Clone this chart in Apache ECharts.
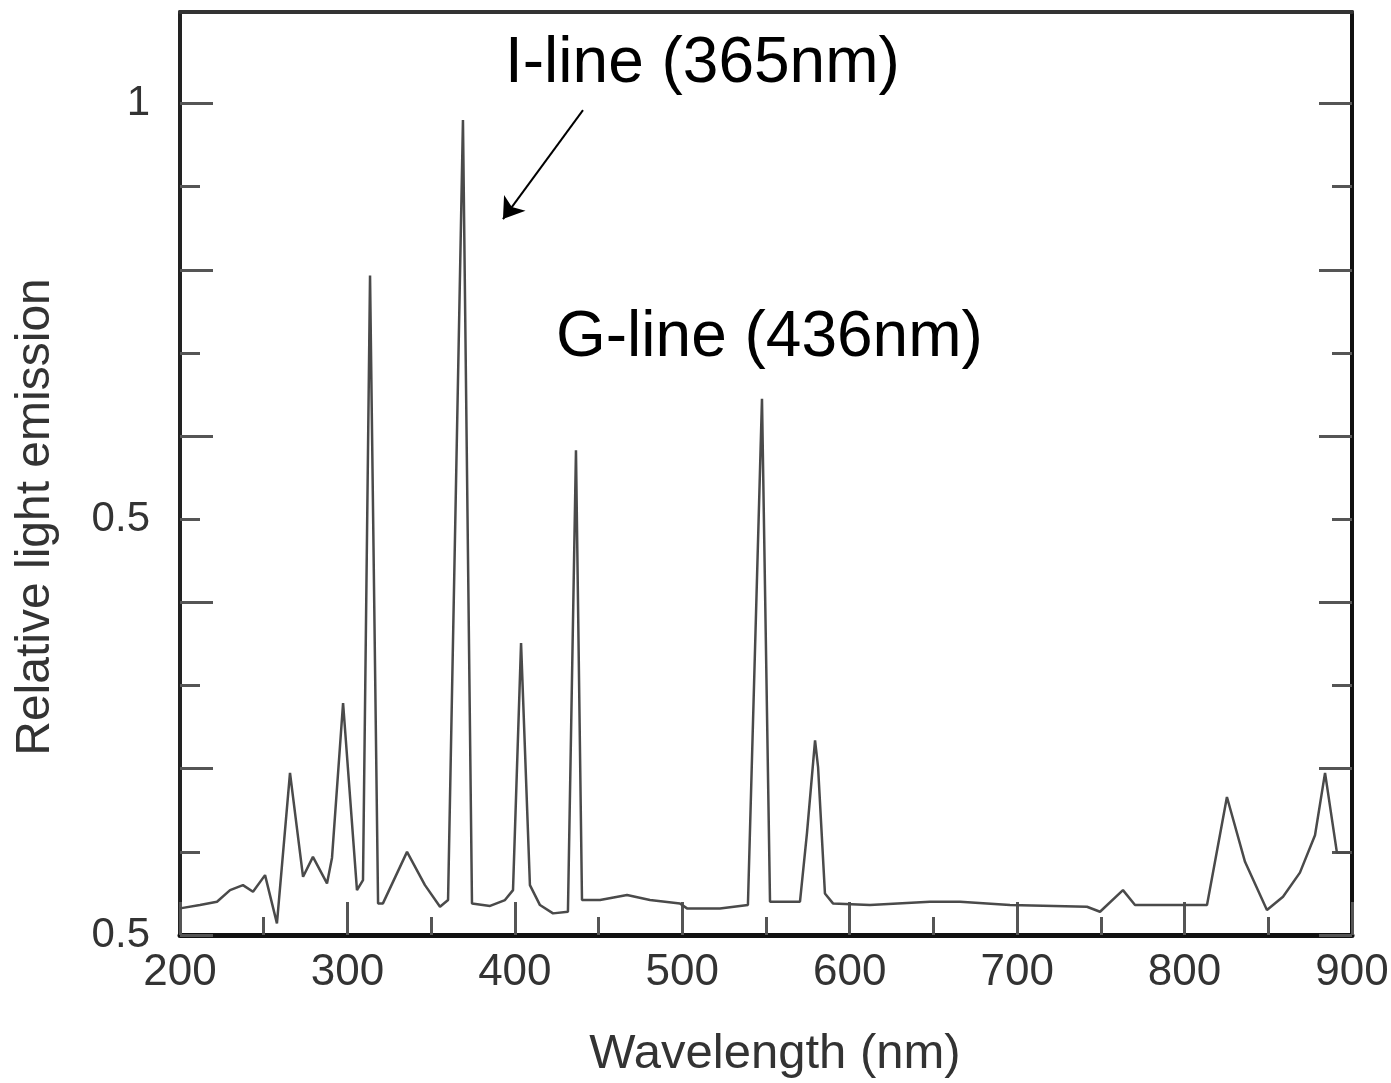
<!DOCTYPE html>
<html>
<head>
<meta charset="utf-8">
<style>
  html, body { margin: 0; padding: 0; background: #fff; }
  #chart { width: 1391px; height: 1083px; }
</style>
<script src="https://cdn.jsdelivr.net/npm/echarts@6/dist/echarts.min.js"></script>
</head>
<body>
<div id="chart"></div>
<script>
// spectrum (nm, relative emission)
const wavelength = [
  200, 211.9, 222.1, 229.9, 237.6, 243.6, 250.8, 257.9, 265.7, 273.5,
  279.4, 287.8, 290.8, 297.4, 305.7, 309.3, 313.5, 318.3, 321.2, 335.6,
  346.3, 355.3, 360.1, 369.0, 374.4, 385.2, 394.1, 398.9, 403.7, 409.0,
  415.0, 422.8, 431.7, 436.5, 440.1, 450.9, 467.0, 480.7, 498.6, 502.8,
  522.5, 539.2, 547.6, 552.4, 570.3, 574.5, 579.3, 581.1, 585.2, 590.0,
  612.1, 647.9, 665.9, 695.7, 741.7, 749.5, 763.2, 770.4, 813.4, 825.3,
  836.1, 849.2, 858.8, 868.9, 877.9, 883.9, 891.0, 900
]
const emission = [
  0.032, 0.036, 0.040, 0.054, 0.060, 0.052, 0.072, 0.014, 0.195, 0.070,
  0.094, 0.062, 0.093, 0.279, 0.054, 0.066, 0.793, 0.038, 0.038, 0.100,
  0.060, 0.034, 0.042, 0.980, 0.038, 0.035, 0.042, 0.054, 0.351, 0.060,
  0.036, 0.026, 0.028, 0.583, 0.042, 0.042, 0.048, 0.042, 0.038, 0.032,
  0.032, 0.036, 0.645, 0.040, 0.040, 0.123, 0.234, 0.202, 0.050, 0.038,
  0.036, 0.040, 0.040, 0.036, 0.034, 0.028, 0.054, 0.036, 0.036, 0.166,
  0.088, 0.030, 0.046, 0.075, 0.120, 0.195, 0.099, 0.099
]

const xMajorTicks = [200, 300, 400, 500, 600, 700, 800, 900]
const xMinorTicks = [250, 350, 450, 550, 650, 750, 850]
const yMajorTicks = [0, 0.2, 0.4, 0.6, 0.8, 1.0]
const yMinorTicks = [0.1, 0.3, 0.5, 0.7, 0.9]
const yLabelValues = [0, 0.5, 1]
const yLabelTexts = ['0.5', '0.5', '1']

// arrow pointing at the I-line, in data coords
const arrowFrom = [440.7, 0.992]
const arrowTo = [392.9, 0.861]

const X_MIN = 200, X_MAX = 900, Y_MIN = 0, Y_MAX = 1.11
const FONT = '"Liberation Sans", Arial, Helvetica, sans-serif'
const GRID = { left: 180, right: 39, top: 12, bottom: 148, outerBoundsMode: 'none', containLabel: false }

const chart = echarts.init(document.getElementById('chart'), null, { renderer: 'canvas' })

function yLabel(v) {
  const i = yLabelValues.findIndex(t => Math.abs(t - v) < 1e-6)
  return i < 0 ? '' : yLabelTexts[i]
}

const tickStyle = { color: '#555', width: 3 }

const option = {
  backgroundColor: '#fff',
  animation: false,
  grid: [
    Object.assign({}, GRID),
    Object.assign({}, GRID),
  ],
  xAxis: [
    {
      gridIndex: 0, type: 'value', position: 'bottom', min: X_MIN, max: X_MAX,
      axisLine: { show: true, onZero: false, lineStyle: { color: '#111', width: 5 } },
      axisTick: { show: true, inside: true, length: 33, customValues: xMajorTicks, lineStyle: tickStyle },
      axisLabel: { show: true, customValues: xMajorTicks, margin: 16, fontSize: 44, fontFamily: FONT, color: '#333' },
      splitLine: { show: false },
      name: 'Wavelength (nm)', nameLocation: 'middle', nameGap: 95,
      nameTextStyle: { fontSize: 49, fontFamily: FONT, color: '#333', padding: [0, 0, 0, 18] },
    },
    {
      gridIndex: 0, type: 'value', position: 'top', min: X_MIN, max: X_MAX,
      axisLine: { show: true, onZero: false, lineStyle: { color: '#333', width: 4 } },
      axisTick: { show: false }, axisLabel: { show: false }, splitLine: { show: false },
    },
    {
      gridIndex: 1, type: 'value', position: 'bottom', min: X_MIN, max: X_MAX,
      axisLine: { show: false },
      axisTick: { show: true, inside: true, length: 18, customValues: xMinorTicks, lineStyle: tickStyle },
      axisLabel: { show: false }, splitLine: { show: false },
    },
  ],
  yAxis: [
    {
      gridIndex: 0, type: 'value', position: 'left', min: Y_MIN, max: Y_MAX,
      axisLine: { show: true, onZero: false, lineStyle: { color: '#222', width: 4 } },
      axisTick: { show: true, inside: true, length: 33, customValues: yMajorTicks, lineStyle: tickStyle },
      axisLabel: { show: true, customValues: yLabelValues, formatter: yLabel, margin: 30, fontSize: 42, fontFamily: FONT, color: '#333' },
      splitLine: { show: false },
    },
    {
      gridIndex: 0, type: 'value', position: 'right', min: Y_MIN, max: Y_MAX,
      axisLine: { show: true, onZero: false, lineStyle: { color: '#111', width: 4 } },
      axisTick: { show: true, inside: true, length: 33, customValues: yMajorTicks, lineStyle: tickStyle },
      axisLabel: { show: false }, splitLine: { show: false },
    },
    {
      gridIndex: 1, type: 'value', position: 'left', min: Y_MIN, max: Y_MAX,
      axisLine: { show: false },
      axisTick: { show: true, inside: true, length: 20, customValues: yMinorTicks, lineStyle: tickStyle },
      axisLabel: { show: false }, splitLine: { show: false },
    },
    {
      gridIndex: 1, type: 'value', position: 'right', min: Y_MIN, max: Y_MAX,
      axisLine: { show: false },
      axisTick: { show: true, inside: true, length: 20, customValues: yMinorTicks, lineStyle: tickStyle },
      axisLabel: { show: false }, splitLine: { show: false },
    },
  ],
  series: [
    {
      type: 'line',
      xAxisIndex: 0,
      yAxisIndex: 0,
      data: wavelength.map((w, i) => [w, emission[i]]),
      symbol: 'none',
      lineStyle: { color: '#4a4a4a', width: 2.5 },
      z: 3,
      markLine: {
        silent: true,
        symbol: ['none', 'arrow'],
        symbolSize: 20,
        label: { show: false },
        lineStyle: { color: '#000', width: 2, type: 'solid' },
        data: [[{ coord: arrowFrom }, { coord: arrowTo }]],
      },
    },
  ],
  graphic: [
    {
      type: 'text', x: 505, y: 64,
      style: { text: 'I-line (365nm)', fontSize: 64, fontFamily: FONT, fill: '#000', align: 'left', verticalAlign: 'middle' },
    },
    {
      type: 'text', x: 556, y: 338,
      style: { text: 'G-line (436nm)', fontSize: 64, fontFamily: FONT, fill: '#000', align: 'left', verticalAlign: 'middle' },
    },
    {
      type: 'text', x: 36, y: 517, rotation: Math.PI / 2,
      style: { text: 'Relative light emission', fontSize: 48, fontFamily: FONT, fill: '#333', align: 'center', verticalAlign: 'middle' },
    },
  ],
}

chart.setOption(option)
</script>
</body>
</html>
